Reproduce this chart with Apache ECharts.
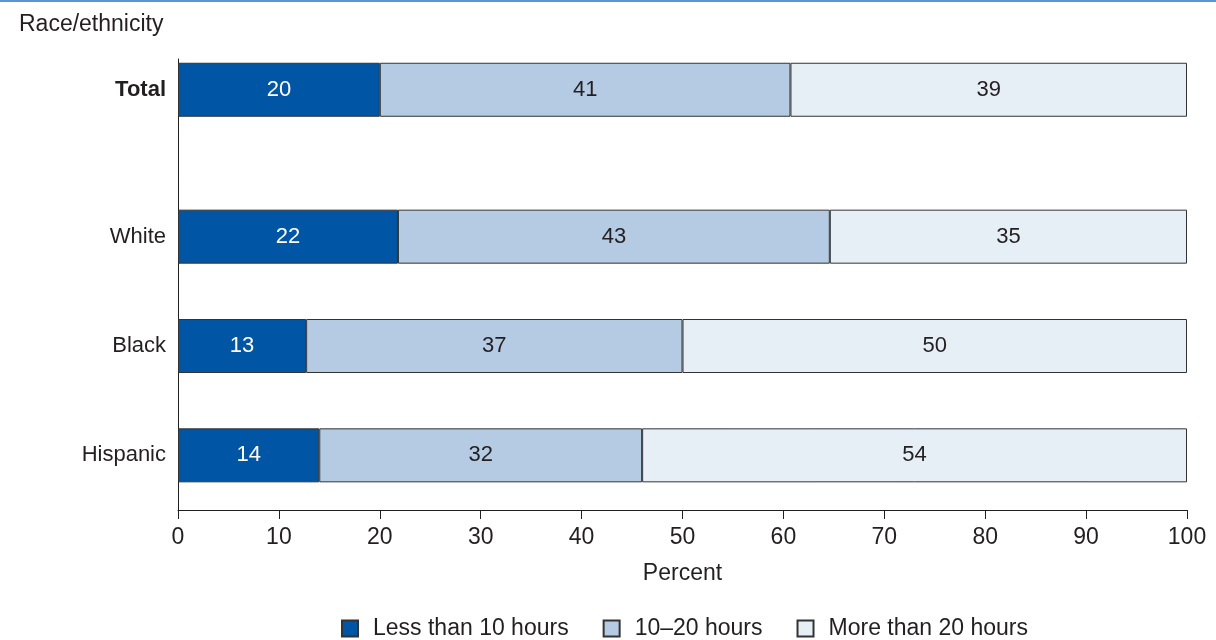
<!DOCTYPE html>
<html>
<head>
<meta charset="utf-8">
<script src="https://cdn.jsdelivr.net/npm/echarts@6/dist/echarts.min.js"></script>
<style>
html,body{margin:0;padding:0;background:#fff;}
#chart{width:1216px;height:640px;}
</style>
</head>
<body>
<div id="chart"></div>
<script>
const categories = ['Total', 'White', 'Black', 'Hispanic'];
const seriesNames = ['Less than 10 hours', '10\u201320 hours', 'More than 20 hours'];
const lessThan10 = [20.0, 21.8, 12.7, 14.0];
const from10to20 = [40.7, 42.8, 37.3, 32.0];
const moreThan20 = [39.3, 35.4, 50.0, 54.0];
const xTicks = [0, 10, 20, 30, 40, 50, 60, 70, 80, 90, 100];

const colors = ['#0055a4', '#b5cbe3', '#e6eef6'];
const labelColors = ['#ffffff', '#231f20', '#231f20'];
const values = [lessThan10, from10to20, moreThan20];
const FONT = '"Liberation Sans", Arial, sans-serif';
const TXT = '#231f20';
const FS = 23;

const chart = echarts.init(document.getElementById('chart'));

const totalCats = [categories[0], ''];
const groupCats = categories.slice(1);

function mkSeries(i, gridIdx) {
  const data = gridIdx === 0 ? [values[i][0], '-'] : values[i].slice(1);
  return {
    name: seriesNames[i],
    type: 'bar',
    stack: 'g' + gridIdx,
    xAxisIndex: gridIdx,
    yAxisIndex: gridIdx,
    barWidth: 54,
    data: data,
    itemStyle: { color: colors[i], borderColor: '#333333', borderWidth: 1 },
    label: {
      show: true,
      position: 'inside',
      color: labelColors[i],
      fontFamily: FONT,
      fontSize: 22,
      formatter: p => Math.round(p.value)
    },
    emphasis: { disabled: true },
    animation: false
  };
}

const series = [];
for (let g = 0; g < 2; g++) for (let i = 0; i < 3; i++) series.push(mkSeries(i, g));

chart.setOption({
  animation: false,
  textStyle: { fontFamily: FONT },
  title: {
    text: 'Race/ethnicity',
    left: 14, top: 8,
    textStyle: { fontFamily: FONT, fontSize: FS, fontWeight: 'normal', color: TXT }
  },
  graphic: [{
    type: 'rect', shape: { x: 0, y: 0, width: 1216, height: 2 },
    style: { fill: '#5b95d0' }
  }],
  legend: {
    top: 612,
    left: 336,
    itemWidth: 16, itemHeight: 16, itemGap: 34,
    icon: 'rect',
    textStyle: { fontFamily: FONT, fontSize: FS, color: TXT, padding: [0, 0, 0, 10] },
    data: seriesNames
  },
  grid: [
    { left: 178, right: 29, top: 59, height: 123 },
    { left: 178, right: 29, top: 182, height: 328 }
  ],
  xAxis: [
    { gridIndex: 0, type: 'value', min: 0, max: 100, interval: 10, show: false },
    {
      gridIndex: 1, type: 'value', min: 0, max: 100, interval: 10,
      name: 'Percent', nameLocation: 'middle', nameGap: 52,
      nameTextStyle: { fontFamily: FONT, fontSize: FS, color: TXT },
      axisLine: { show: true, lineStyle: { color: '#231f20', width: 1 } },
      axisTick: { show: true, length: 9, lineStyle: { color: '#231f20' } },
      axisLabel: { fontFamily: FONT, fontSize: FS, color: TXT, margin: 16, formatter: v => xTicks.includes(v) ? String(v) : '' },
      splitLine: { show: false }
    }
  ],
  yAxis: [
    {
      gridIndex: 0, type: 'category', inverse: true, data: totalCats,
      axisLine: { show: true, lineStyle: { color: '#231f20' } },
      axisTick: { show: false },
      axisLabel: { fontFamily: FONT, fontSize: 22, color: TXT, fontWeight: 'bold', margin: 12 }
    },
    {
      gridIndex: 1, type: 'category', inverse: true, data: groupCats,
      axisLine: { show: true, lineStyle: { color: '#231f20' } },
      axisTick: { show: false },
      axisLabel: { fontFamily: FONT, fontSize: 22, color: TXT, margin: 12 }
    }
  ],
  series: series
});
</script>
</body>
</html>
